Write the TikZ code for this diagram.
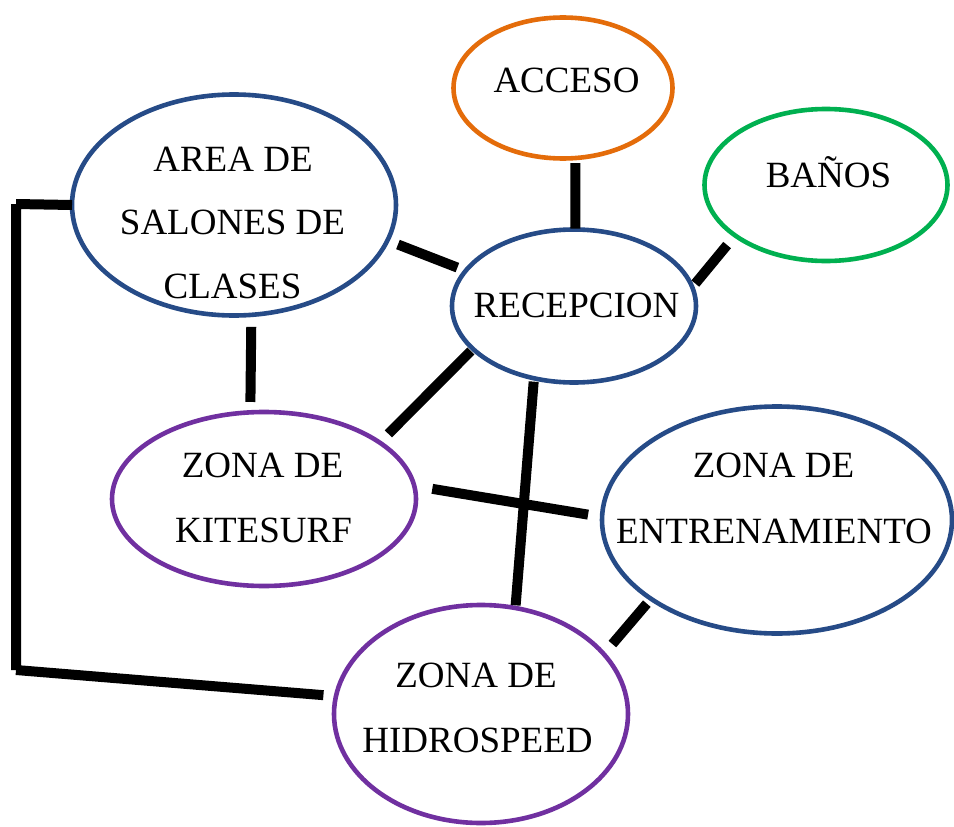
\documentclass[tikz,border=0pt]{standalone}
\usepackage{fontspec}
\setmainfont{Liberation Serif}
\usetikzlibrary{shapes.geometric}
\definecolor{cOrange}{RGB}{228,108,10}
\definecolor{cGreen}{RGB}{0,176,80}
\definecolor{cBlue}{RGB}{38,75,135}
\definecolor{cPurple}{RGB}{112,48,160}
\begin{document}
\begin{tikzpicture}[x=1pt,y=-1pt,
  zone/.style={ellipse,draw=#1,line width=4.6pt,inner sep=0pt,outer sep=0pt,fill=white},
  lbl/.style={anchor=base,inner sep=0pt,font=\fontsize{37}{44}\selectfont},
  conn/.style={line width=10pt,black,line cap=butt}]
\useasboundingbox[fill=white] (0,0) rectangle (954,827);
% zones
\node[zone=cOrange,minimum width=219pt,minimum height=141pt] (acc) at (563,88) {};
\node[zone=cGreen,minimum width=243pt,minimum height=152pt] (ban) at (826,185) {};
\node[zone=cBlue,minimum width=324pt,minimum height=221pt] (area) at (234,205) {};
\node[zone=cBlue,minimum width=244pt,minimum height=153pt] (rec) at (574,306) {};
\node[zone=cPurple,minimum width=304pt,minimum height=174pt] (kite) at (264,499) {};
\node[zone=cBlue,minimum width=350pt,minimum height=227pt] (ent) at (777,520) {};
\node[zone=cPurple,minimum width=294pt,minimum height=218pt] (hid) at (481,714) {};
% labels
\node[lbl] (tacc) at (566.5,92) {ACCESO};
\node[lbl] (tban) at (828.5,187) {BAÑOS};
\node[lbl] (tarea1) at (233,171) {AREA DE};
\node[lbl] (tarea2) at (232.5,234) {SALONES DE};
\node[lbl] (tarea3) at (232.5,298) {CLASES};
\node[lbl] (trec) at (576.5,317) {RECEPCION};
\node[lbl] (tkite1) at (262.5,477) {ZONA DE};
\node[lbl] (tkite2) at (263.5,542) {KITESURF};
\node[lbl] (tent1) at (773.5,477) {ZONA DE};
\node[lbl] (tent2) at (774,543) {ENTRENAMIENTO};
\node[lbl] (thid1) at (476,687) {ZONA DE};
\node[lbl] (thid2) at (477.5,752) {HIDROSPEED};
% connectors
\draw[conn,shorten <=5pt,shorten >=1pt] (acc.-80.9) -- (rec.89.3);
\draw[conn,shorten <=12.5pt,shorten >=4.8pt] (ban.209) -- (rec.9.3);
\draw[conn,shorten <=11.3pt,shorten >=8.9pt] (area.-13.2) -- (rec.162.2);
\draw[conn,shorten <=12pt,shorten >=10.4pt] (area.-81.7) -- (kite.99.2);
\draw[conn,shorten <=3pt,shorten >=12.3pt] (rec.203.8) -- (kite.26.7);
\draw[conn,shorten <=3.4pt,shorten >=2.7pt] (rec.241.9) -- (hid.72.9);
\draw[conn,shorten <=18.3pt,shorten >=14.2pt] (kite.5.4) -- (ent.179.5);
\draw[conn,shorten <=6.4pt,shorten >=13.2pt] (ent.212.3) -- (hid.26.6);
\coordinate (c1) at (16,204);
\coordinate (c2) at (16,670);
\draw[conn] (area.west) -- (c1) (c1) -- (c2);
\draw[conn,shorten >=12.6pt] (c2) -- (hid.173.8);
\end{tikzpicture}
\end{document}
